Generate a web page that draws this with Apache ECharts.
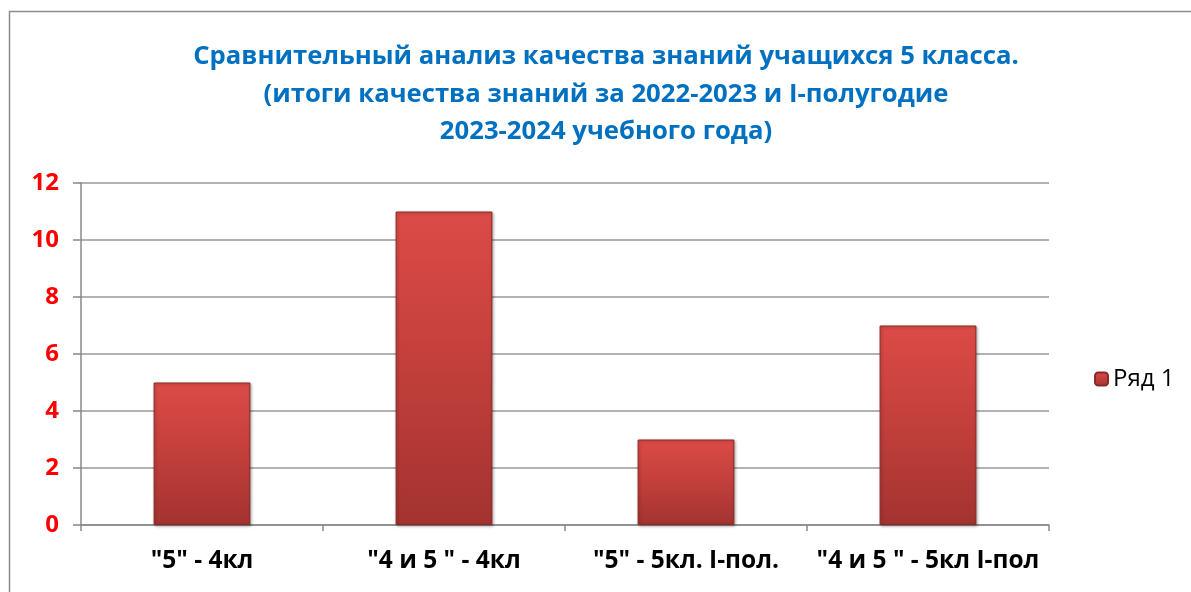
<!DOCTYPE html>
<html><head><meta charset="utf-8">
<script src="https://cdn.jsdelivr.net/npm/echarts@6/dist/echarts.min.js"></script>
<style>html,body{margin:0;padding:0;background:#fff}#c{width:1191px;height:592px}</style>
</head><body><div id="c"></div>
<script>
const titleLines = ['Сравнительный анализ качества знаний учащихся 5 класса.', '(итоги качества знаний за 2022-2023 и I-полугодие', '2023-2024 учебного года)'];
const categories = ['"5" - 4кл', '"4 и 5 " - 4кл', '"5" - 5кл. I-пол.', '"4 и 5 " - 5кл I-пол'];
const seriesName = 'Ряд 1';
const values = [5, 11, 3, 7];
const yMin = 0, yMax = 12, yStep = 2;

const chart = echarts.init(document.getElementById('c'));
const font = 'Open Sans, Noto Sans, sans-serif';
chart.setOption({
  animation: false,
  graphic: [{type:'rect', shape:{x:9.5,y:11.5,width:1200,height:600}, style:{fill:'none', stroke:'#8c8c8c', lineWidth:1.5}, silent:true}],
  title: {
    text: titleLines.join('\n'), left: 601, textAlign: 'center', top: 33,
    textStyle: {color:'#0070C0', fontSize:25.7, fontWeight:'bold', fontFamily:font, lineHeight:37.5}
  },
  legend: {
    data:[seriesName], left: 1089, top: 362, itemWidth: 13, itemHeight: 13, itemGap: 6,
    textStyle: {fontSize:24, color:'#000', fontFamily:font}
  },
  grid: {left:81, right:142, top:183, bottom:67},
  xAxis: {
    type:'category', data: categories,
    axisLine:{lineStyle:{color:'#888', width:1.5}},
    axisTick:{show:true, length:6, lineStyle:{color:'#888', width:1.5}},
    axisLabel:{color:'#000', fontSize:24.5, fontWeight:'bold', fontFamily:font, margin:24, interval:0}
  },
  yAxis: {
    type:'value', min:yMin, max:yMax, interval:yStep,
    axisLine:{show:true, lineStyle:{color:'#888', width:1.5}},
    axisTick:{show:true, length:8, lineStyle:{color:'#888', width:1.5}},
    splitLine:{lineStyle:{color:'#999', width:1.5}},
    axisLabel:{color:'#FF0000', fontSize:24, fontWeight:'bold', fontFamily:font, margin:22}
  },
  series: [{
    name: seriesName, type:'bar', data: values, barWidth:'40%',
    itemStyle: {
      color: new echarts.graphic.LinearGradient(0,0,0,1,[
        {offset:0, color:'#dc4b47'},{offset:0.5, color:'#c23f3b'},{offset:1, color:'#a33330'}]),
      borderColor:'#8a2a28', borderWidth:1,
      shadowColor:'rgba(0,0,0,0.3)', shadowBlur:3, shadowOffsetX:1, shadowOffsetY:1
    }
  }]
});
</script></body></html>
